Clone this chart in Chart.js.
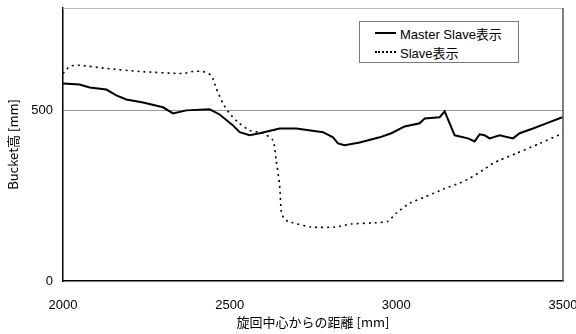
<!DOCTYPE html>
<html>
<head>
<meta charset="utf-8">
<script src="https://cdn.jsdelivr.net/npm/chart.js@4"></script>
<style>
  body { margin: 0; background: #fff; }
  #wrap { position: relative; width: 576px; height: 334px; }
  #legend {
    position: absolute; left: 359px; top: 21px; width: 158px; height: 40px;
    border: 1px solid #777; background: #fff;
    font: 13px "Liberation Sans", "Noto Sans CJK JP", sans-serif; color: #000;
  }
  .row { position: absolute; left: 15px; height: 16px; display: flex; align-items: center; }
  .sample { width: 21px; margin-right: 4px; }
  .solid { border-top: 2px solid #000; }
  .dotted { border-top: 2px dotted #000; }
</style>
</head>
<body>
<div id="wrap">
  <canvas id="chart" width="576" height="334"></canvas>
  <div id="legend">
    <div class="row" style="top:3px"><span class="sample solid"></span>Master Slave表示</div>
    <div class="row" style="top:22px"><span class="sample dotted"></span>Slave表示</div>
  </div>
</div>
<script>
  const masterX = [2000, 2050, 2080, 2130, 2160, 2190, 2240, 2300, 2330, 2370, 2440, 2470, 2510, 2530, 2560,
    2590, 2650, 2700, 2780, 2810, 2825, 2845, 2890, 2950, 2985, 3025, 3070, 3085, 3130, 3145, 3175, 3215,
    3235, 3250, 3265, 3280, 3310, 3350, 3370, 3410, 3450, 3490, 3500];
  const masterY = [579, 576, 567, 561, 544, 532, 523, 509, 491, 500, 503, 488, 456, 436, 427,
    433, 447, 447, 436, 421, 403, 398, 406, 421, 433, 453, 462, 476, 480, 497, 427, 418,
    409, 430, 427, 418, 427, 418, 433, 447, 462, 477, 480];

  const slaveX = [2000, 2020, 2050, 2130, 2230, 2360, 2390, 2420, 2445, 2460, 2480, 2500, 2525, 2560, 2600,
    2630, 2640, 2650, 2655, 2665, 2685, 2745, 2815, 2865, 2925, 2975, 3000, 3040, 3085, 3140, 3190,
    3220, 3260, 3290, 3310, 3360, 3430, 3500];
  const slaveY = [608, 629, 632, 623, 614, 608, 614, 614, 602, 564, 520, 491, 465, 441, 433,
    412, 350, 280, 202, 180, 172, 158, 158, 167, 170, 175, 199, 228, 246, 269, 287,
    301, 325, 345, 354, 374, 403, 433];

  const xTicks = [2000, 2500, 3000, 3500];
  const yTicks = [0, 500];

  const toPoints = (xs, ys) => xs.map((x, i) => ({ x: x, y: ys[i] }));

  const frame = {
    id: "frame",
    afterDraw(chart) {
      const { ctx, chartArea: a } = chart;
      ctx.save();
      ctx.lineWidth = 1;
      ctx.strokeStyle = "#bbb";
      ctx.beginPath();
      ctx.moveTo(a.left, a.top + 0.5);
      ctx.lineTo(a.right, a.top + 0.5);
      ctx.stroke();
      ctx.strokeStyle = "#555";
      ctx.lineWidth = 1.5;
      ctx.beginPath();
      ctx.moveTo(a.right, a.top);
      ctx.lineTo(a.right, a.bottom);
      ctx.stroke();
      ctx.restore();
    }
  };

  const tickFont = { family: "'Liberation Sans', Arial, sans-serif", size: 13 };
  const titleFont = { family: "'Noto Sans CJK JP', sans-serif", size: 13 };

  new Chart(document.getElementById("chart"), {
    type: "scatter",
    data: {
      datasets: [
        {
          label: "Master Slave表示",
          data: toPoints(masterX, masterY),
          showLine: true,
          borderColor: "#000",
          borderWidth: 2,
          pointRadius: 0,
          tension: 0
        },
        {
          label: "Slave表示",
          data: toPoints(slaveX, slaveY),
          showLine: true,
          borderColor: "#000",
          borderWidth: 1.6,
          borderDash: [2, 4],
          pointRadius: 0,
          tension: 0.2
        }
      ]
    },
    options: {
      responsive: false,
      animation: false,
      layout: { padding: { top: 8, right: 13, left: 0, bottom: 0 } },
      plugins: { legend: { display: false }, tooltip: { enabled: false } },
      scales: {
        x: {
          type: "linear",
          min: 2000,
          max: 3500,
          afterBuildTicks: (s) => { s.ticks = xTicks.map((v) => ({ value: v })); },
          afterFit: (s) => { s.height = 53; s.paddingLeft = 0; s.paddingRight = 0; },
          grid: { display: false, drawTicks: false },
          border: { color: "#000", width: 1.5 },
          ticks: { color: "#000", font: tickFont, padding: 17, maxRotation: 0, callback: (v) => String(v) },
          title: { display: true, text: "旋回中心からの距離 [mm]", color: "#000", font: titleFont, padding: { top: 0 } }
        },
        y: {
          min: 0,
          max: 800,
          afterBuildTicks: (s) => { s.ticks = yTicks.map((v) => ({ value: v })); },
          afterFit: (s) => { s.width = 63; s.paddingTop = 0; s.paddingBottom = 0; },
          grid: { color: (c) => (c.tick && c.tick.value === 500 ? "#999" : "rgba(0,0,0,0)"), drawTicks: false },
          border: { color: "#000", width: 1.5 },
          ticks: { color: "#000", font: tickFont, padding: 10, callback: (v) => String(v) },
          title: { display: true, text: "Bucket高 [mm]", color: "#000", font: titleFont, padding: { top: 5, bottom: 6 } }
        }
      }
    },
    plugins: [frame]
  });
</script>
</body>
</html>
